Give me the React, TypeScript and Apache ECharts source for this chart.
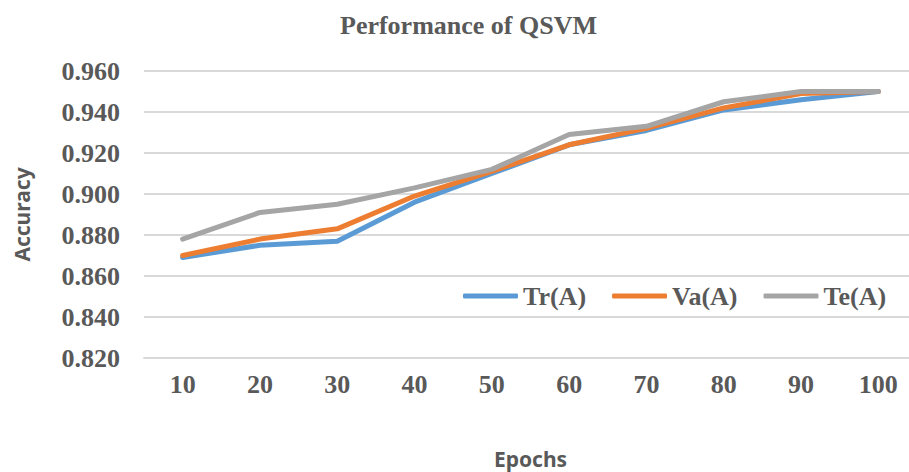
import React, { useEffect, useRef } from "react";
import * as echarts from "echarts";

const epochs = ["10", "20", "30", "40", "50", "60", "70", "80", "90", "100"];
const trA = [0.869, 0.875, 0.877, 0.896, 0.910, 0.924, 0.931, 0.941, 0.946, 0.950];
const vaA = [0.870, 0.878, 0.883, 0.899, 0.911, 0.924, 0.932, 0.942, 0.949, 0.950];
const teA = [0.878, 0.891, 0.895, 0.903, 0.912, 0.929, 0.933, 0.945, 0.950, 0.950];
const seriesNames = ["Tr(A)", "Va(A)", "Te(A)"];
const colors = ["#5b9bd5", "#ed7d31", "#a5a5a5"];

const serif = "'Liberation Serif', 'Times New Roman', serif";
const textColor = "#595959";

export default function App() {
  const ref = useRef<HTMLDivElement>(null);
  useEffect(() => {
    if (!ref.current) return;
    const chart = echarts.init(ref.current, undefined, { renderer: "svg" });
    const values = [trA, vaA, teA];
    chart.setOption({
      animation: false,
      backgroundColor: "#ffffff",
      title: {
        text: "Performance of QSVM",
        left: 335,
        top: 7,
        textStyle: { fontFamily: serif, fontWeight: "bold", fontSize: 26, color: textColor },
      },
      legend: {
        left: 463,
        top: 283,
        itemWidth: 55,
        itemHeight: 5,
        itemGap: 26,
        icon: "roundRect",
        backgroundColor: "#ffffff",
        padding: [0, 0, 0, 0],
        textStyle: { fontFamily: serif, fontWeight: "bold", fontSize: 26, color: textColor },
        data: seriesNames,
      },
      grid: {
        left: 144,
        right: -8,
        top: 71,
        bottom: 114,
        containLabel: false,
        outerBoundsMode: "none",
      },
      xAxis: {
        type: "category",
        data: epochs,
        boundaryGap: true,
        name: "Epochs",
        nameLocation: "middle",
        nameGap: 90,
        nameTextStyle: { fontFamily: "'Noto Sans', sans-serif", fontWeight: "bold", fontSize: 21, color: textColor },
        axisLine: { show: true, lineStyle: { color: "#d9d9d9", width: 2 } },
        axisTick: { show: false },
        axisLabel: { margin: 13, fontFamily: serif, fontWeight: "bold", fontSize: 26, color: textColor },
      },
      yAxis: {
        type: "value",
        min: 0.82,
        max: 0.96,
        interval: 0.02,
        name: "Accuracy",
        nameLocation: "middle",
        nameGap: 112,
        nameTextStyle: { fontFamily: "'Noto Sans', sans-serif", fontWeight: "bold", fontSize: 21, color: textColor },
        axisLine: { show: false },
        axisTick: { show: false },
        splitLine: { lineStyle: { color: "#d9d9d9", width: 2 } },
        axisLabel: {
          margin: 24,
          fontFamily: serif,
          fontWeight: "bold",
          fontSize: 26,
          color: textColor,
          formatter: (v: number) => v.toFixed(3),
        },
      },
      series: seriesNames.map((n, i) => ({
        name: n,
        type: "line",
        data: values[i],
        showSymbol: false,
        symbol: "none",
        color: colors[i],
        lineStyle: { width: 5, color: colors[i], cap: "round", join: "round" },
        itemStyle: { color: colors[i] },
      })),
    });
    return () => chart.dispose();
  }, []);
  return (
    <div
      ref={ref}
      style={{ position: "fixed", left: 0, top: 0, width: 909, height: 472, background: "#fff" }}
    />
  );
}
